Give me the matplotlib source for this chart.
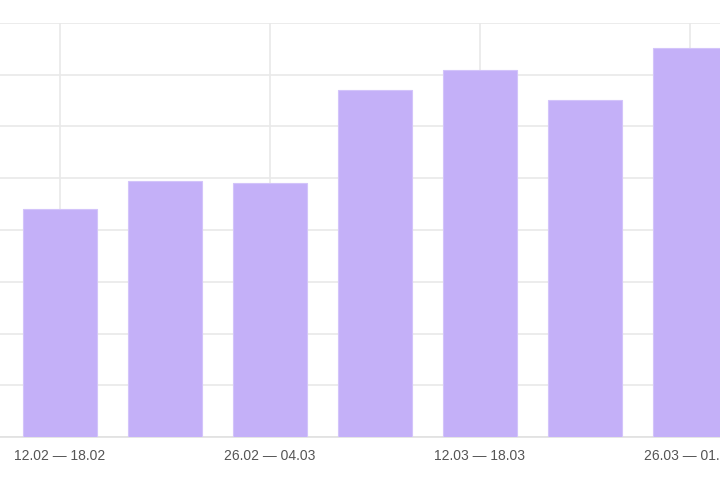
import matplotlib
matplotlib.use("Agg")
import matplotlib.pyplot as plt

weeks = ["12.02 — 18.02", "19.02 — 25.02", "26.02 — 04.03", "05.03 — 11.03",
         "12.03 — 18.03", "19.03 — 25.03", "26.03 — 01.04"]
values = [44.1, 49.5, 49.1, 67.1, 71.0, 65.2, 75.1]
y_ticks = [0, 10, 20, 30, 40, 50, 60, 70, 80]

fig = plt.figure(figsize=(7.2, 4.8), dpi=100)
ax = fig.add_axes([0.0, 43 / 480, 1.0, 414 / 480])

x = list(range(len(weeks)))
ax.bar(x, values, width=0.705, color="#c4b0f8", edgecolor="#d3c4fa",
       linewidth=0.8, zorder=3)

ax.set_xlim(-60 / 105, 660 / 105)
ax.set_ylim(0, 80)
ax.set_yticks(y_ticks)
ax.set_yticklabels([])
ax.tick_params(axis="y", length=0)

shown = x[::2]
ax.set_xticks(shown)
ax.set_xticklabels([weeks[i] for i in shown], fontsize=10,
                   family=["Liberation Sans", "DejaVu Sans"], color="#555555")
ax.tick_params(axis="x", length=0, pad=9)

ax.grid(True, color="#e9e9e9", linewidth=1.2, zorder=0)
ax.set_axisbelow(True)
for s in ["top", "right", "left"]:
    ax.spines[s].set_visible(False)
ax.spines["bottom"].set_color("#e0e0e0")
ax.spines["bottom"].set_linewidth(1.2)

fig.savefig("out.png", dpi=100)
